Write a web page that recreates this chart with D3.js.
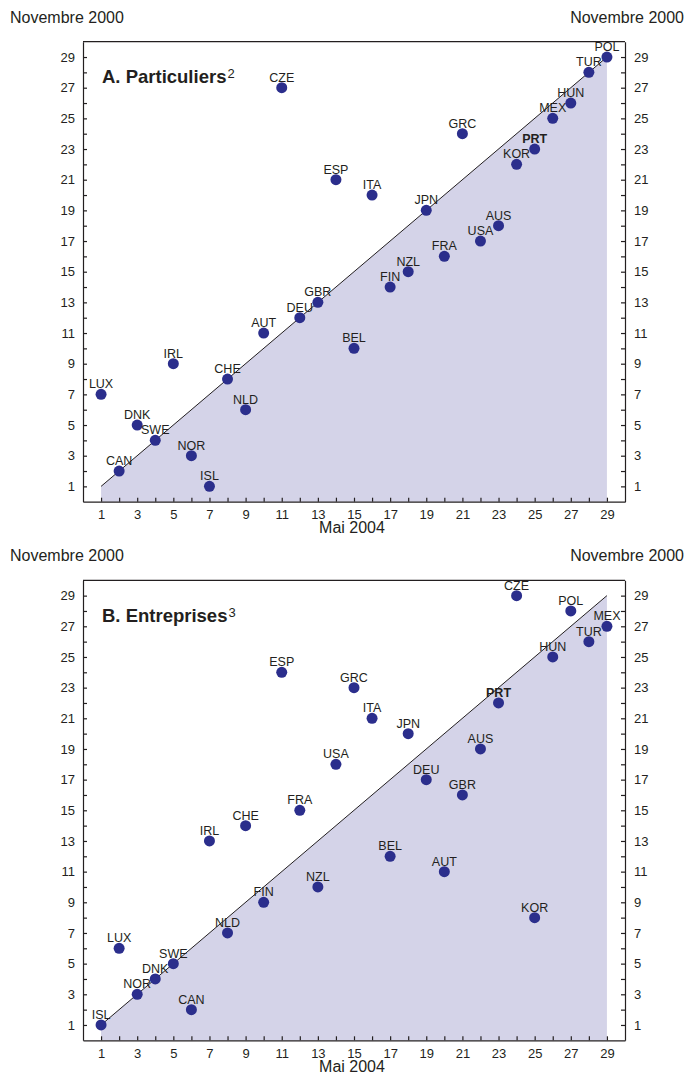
<!DOCTYPE html>
<html><head><meta charset="utf-8">
<script src="https://cdn.jsdelivr.net/npm/d3@7"></script>
<style>
body{margin:0;background:#fff;}
svg text{font-family:"Liberation Sans",Arial,Helvetica,sans-serif;fill:#231f20;}
</style></head>
<body><svg id="c" width="688" height="1075"></svg>
<script>
// Panel A : Particuliers  (x = rang mai 2004, y = rang novembre 2000)
const countriesA = ["LUX","CAN","DNK","SWE","IRL","NOR","ISL","CHE","NLD","AUT","CZE","DEU","GBR","ESP","BEL","ITA","FIN","NZL","JPN","FRA","GRC","USA","AUS","KOR","PRT","MEX","HUN","TUR","POL"];
const may2004A   = [1,2,3,4,5,6,7,8,9,10,11,12,13,14,15,16,17,18,19,20,21,22,23,24,25,26,27,28,29];
const nov2000A   = [7,2,5,4,9,3,1,8,6,11,27,12,13,21,10,20,14,15,19,16,24,17,18,22,23,25,26,28,29];
// Panel B : Entreprises
const countriesB = ["ISL","LUX","NOR","DNK","SWE","CAN","IRL","NLD","CHE","FIN","ESP","FRA","NZL","USA","GRC","ITA","BEL","JPN","DEU","AUT","GBR","AUS","PRT","CZE","KOR","HUN","POL","TUR","MEX"];
const may2004B   = [1,2,3,4,5,6,7,8,9,10,11,12,13,14,15,16,17,18,19,20,21,22,23,24,25,26,27,28,29];
const nov2000B   = [1,6,3,4,5,2,13,7,14,9,24,15,10,18,23,21,12,20,17,11,16,19,22,29,8,25,28,26,27];
const tickValues = d3.range(1,30);
const highlight = "PRT";

const svg = d3.select("#c");
const L = 83, R = 625;
const dotColor = "#2b2e8c", fillColor = "#d4d3e8";

function panel(top, bottom, title, sup, countries, xs, ys){
  const x = d3.scaleLinear().domain([0,30]).range([L,R]);
  const y = d3.scaleLinear().domain([0,30]).range([bottom,top]);
  const g = svg.append("g");
  const fmt = d => d % 2 === 1 ? d : "";
  // shaded area below diagonal
  const area = [[1,0],[1,1],[29,29],[29,0]];
  g.append("path").attr("d", d3.line().x(d=>x(d[0])).y(d=>y(d[1]))(area)+"Z")
    .attr("fill", fillColor);
  g.append("line").attr("x1",x(1)).attr("y1",y(1)).attr("x2",x(29)).attr("y2",y(29))
    .attr("stroke","#231f20").attr("stroke-width",1);
  // axes
  const styleAxis = a => {
    a.selectAll("path,line").attr("stroke","#231f20").attr("stroke-width",1.2);
    a.selectAll("text").attr("font-size","13px").attr("fill","#231f20")
      .style("font-family",'"Liberation Sans",Arial,sans-serif');
  };
  g.append("g").attr("transform",`translate(0,${bottom})`)
    .call(d3.axisBottom(x).tickValues(tickValues).tickFormat(fmt).tickSizeInner(-4).tickSizeOuter(0).tickPadding(8))
    .call(styleAxis);
  g.append("g").attr("transform",`translate(${L},0)`)
    .call(d3.axisLeft(y).tickValues(tickValues).tickFormat(fmt).tickSizeInner(-4).tickSizeOuter(0).tickPadding(8))
    .call(styleAxis);
  g.append("g").attr("transform",`translate(${R},0)`)
    .call(d3.axisRight(y).tickValues(tickValues).tickFormat(fmt).tickSizeInner(-4).tickSizeOuter(0).tickPadding(9))
    .call(styleAxis);
  g.append("line").attr("x1",L).attr("x2",R).attr("y1",top).attr("y2",top)
    .attr("stroke","#231f20").attr("stroke-width",1.2);
  // corner labels
  g.append("text").attr("x",10).attr("y",top-19).attr("font-size","16px").text("Novembre 2000");
  g.append("text").attr("x",684).attr("y",top-19).attr("font-size","16px").attr("text-anchor","end").text("Novembre 2000");
  g.append("text").attr("x",(L+R)/2-2).attr("y",bottom+31.3).attr("font-size","16px").attr("text-anchor","middle").text("Mai 2004");
  // title
  const t = g.append("text").attr("x",102).attr("y",top+41.6).attr("font-size","18.5px").attr("font-weight","bold");
  t.append("tspan").text(title);
  t.append("tspan").attr("font-size","13px").attr("font-weight","normal").attr("dx",1).attr("dy",-5).text(sup);
  // points
  const data = countries.map((c,i)=>({c, x:xs[i], y:ys[i]}));
  g.selectAll("circle.pt").data(data).join("circle").attr("class","pt")
    .attr("cx",d=>x(d.x)).attr("cy",d=>y(d.y)).attr("r",5.5).attr("fill",dotColor);
  g.selectAll("text.lbl").data(data).join("text").attr("class","lbl")
    .attr("x",d=>x(d.x)).attr("y",d=>y(d.y)-6).attr("text-anchor","middle")
    .attr("font-size","12.5px").attr("font-weight",d=>d.c===highlight?"bold":"normal")
    .text(d=>d.c);
}
panel(41.7, 501.7, "A. Particuliers", "2", countriesA, may2004A, nov2000A);
panel(580.3, 1040.3, "B. Entreprises", "3", countriesB, may2004B, nov2000B);
</script></body></html>
